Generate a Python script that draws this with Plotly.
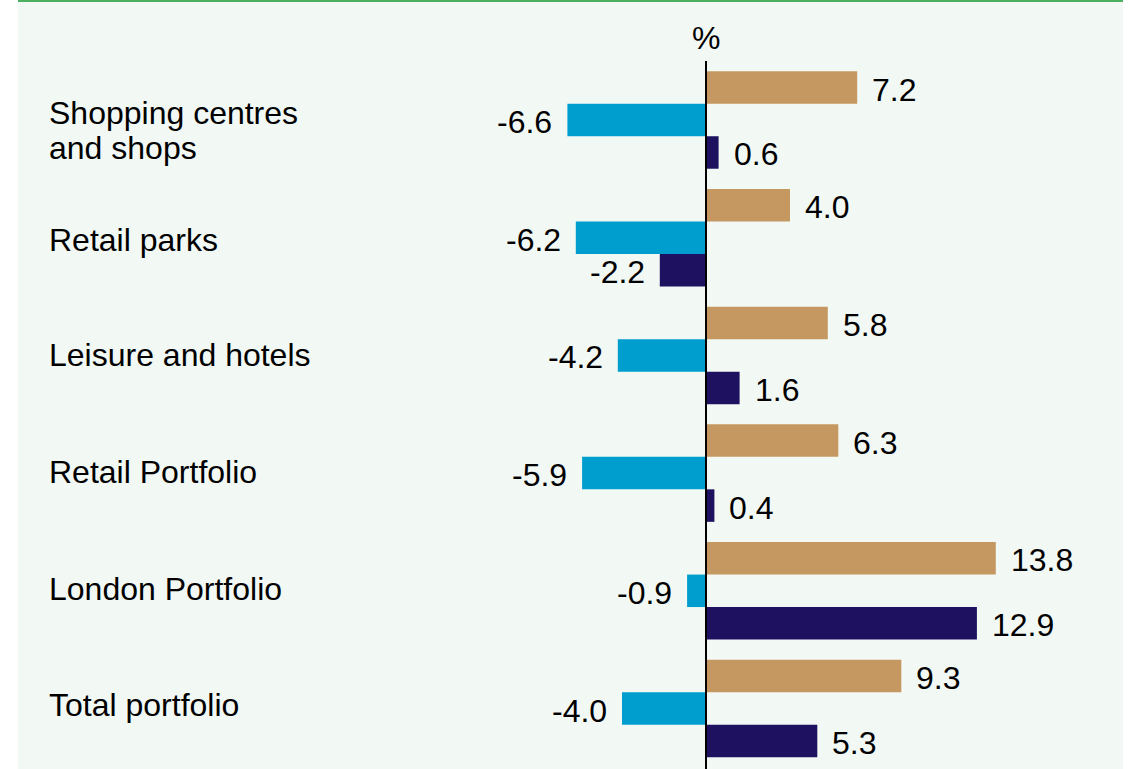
import plotly.graph_objects as go

categories = ["Shopping centres and shops", "Retail parks", "Leisure and hotels",
              "Retail Portfolio", "London Portfolio", "Total portfolio"]
label_lines = [["Shopping centres", "and shops"], ["Retail parks"], ["Leisure and hotels"],
               ["Retail Portfolio"], ["London Portfolio"], ["Total portfolio"]]
series_a = [7.2, 4.0, 5.8, 6.3, 13.8, 9.3]      # tan
series_b = [-6.6, -6.2, -4.2, -5.9, -0.9, -4.0]  # light blue
series_c = [0.6, -2.2, 1.6, 0.4, 12.9, 5.3]      # navy
series = [series_a, series_b, series_c]
colors = ["#C49860", "#009ECE", "#1E1160"]

W, H = 1133, 769
ML, MR = 18, 10
PX_PER_UNIT = 21.0
ZERO_PX = 706
BG = "#F2F8F4"
FONT = "Liberation Sans, Arial, sans-serif"
FS = 32
BARGAP = 0.172

plot_w = W - ML - MR
xmin = -(ZERO_PX - ML) / PX_PER_UNIT
xmax = (W - MR - ZERO_PX) / PX_PER_UNIT

group_px = 117.7
first_center_px = 120.0
ytop = -first_center_px / group_px
ybottom = ytop + H / group_px

fig = go.Figure()
for vals, col in zip(series, colors):
    fig.add_trace(go.Bar(
        y=categories, x=vals, orientation="h",
        marker=dict(color=col, line=dict(width=0)),
        showlegend=False, hoverinfo="skip",
    ))

annotations = []
bw = (1 - BARGAP) / 3
for j, vals in enumerate(series):
    off = -(1 - BARGAP) / 2 + (j + 0.5) * bw
    for i, v in enumerate(vals):
        annotations.append(dict(
            x=v, y=i + off, xref="x", yref="y",
            text=f"{v:.1f}", showarrow=False,
            xanchor="left" if v >= 0 else "right",
            xshift=13 if v >= 0 else -13, yshift=-2,
            font=dict(family=FONT, size=FS, color="black"),
        ))

label_x = (47 - ML) / plot_w
label_yshift = [0, -2, 0, 1, 2, 4]
for i, lines in enumerate(label_lines):
    if len(lines) == 1:
        annotations.append(dict(x=label_x, y=i, xref="paper", yref="y",
                                text=lines[0], showarrow=False, xanchor="left",
                                yshift=label_yshift[i],
                                font=dict(family=FONT, size=FS, color="black")))
    else:
        for k, (ln, sh) in enumerate(zip(lines, [7, -28])):
            annotations.append(dict(x=label_x, y=i, xref="paper", yref="y",
                                    text=ln, showarrow=False, xanchor="left", yshift=sh,
                                    font=dict(family=FONT, size=FS, color="black")))

annotations.append(dict(x=0, y=1 - 38 / H, xref="x", yref="paper", text="%",
                        showarrow=False, xanchor="center", yanchor="middle",
                        font=dict(family=FONT, size=FS, color="black")))

shapes = [
    dict(type="line", xref="x", yref="paper", x0=0, x1=0, y0=0, y1=1 - 61 / H,
         line=dict(color="black", width=2)),
    dict(type="line", xref="paper", yref="paper", x0=0, x1=1, y0=1 - 1 / H, y1=1 - 1 / H,
         line=dict(color="#4DB060", width=2)),
]

fig.update_layout(
    width=W, height=H,
    margin=dict(l=ML, r=MR, t=0, b=0, pad=0),
    paper_bgcolor="white", plot_bgcolor=BG,
    barmode="group", bargap=BARGAP, bargroupgap=0,
    xaxis=dict(range=[xmin, xmax], showgrid=False, zeroline=False,
               showticklabels=False, ticks="", fixedrange=True),
    yaxis=dict(type="category", categoryorder="array", categoryarray=categories,
               range=[ybottom, ytop], showgrid=False, zeroline=False,
               showticklabels=False, ticks="", fixedrange=True),
    annotations=annotations, shapes=shapes,
    font=dict(family=FONT, size=FS, color="black"),
)

fig.write_html("out.html", config={"displayModeBar": False},
               post_script="document.body.style.margin='0px';document.body.style.overflow='hidden';")
